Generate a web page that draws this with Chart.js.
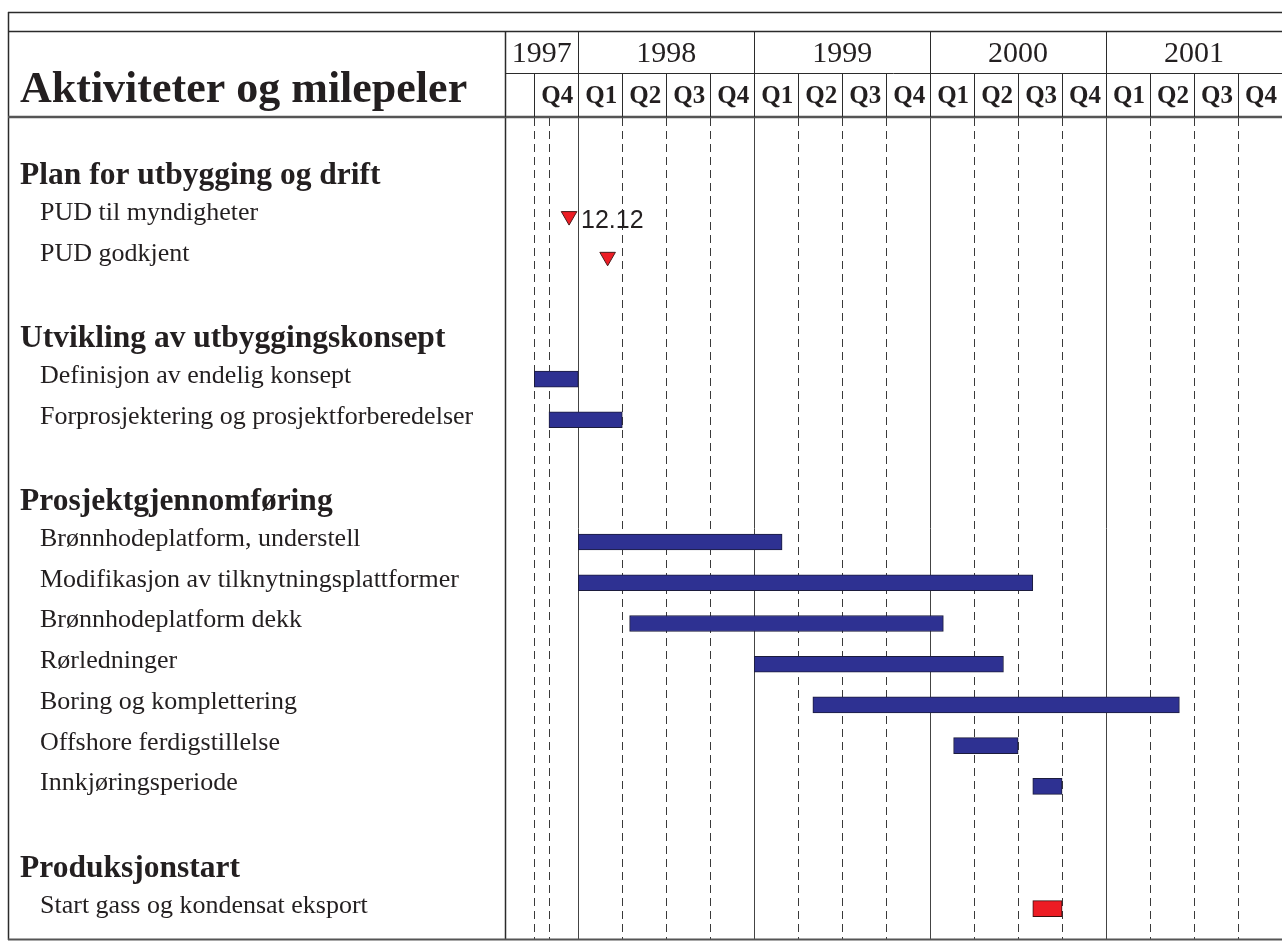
<!DOCTYPE html>
<html>
<head>
<meta charset="utf-8">
<script src="https://cdn.jsdelivr.net/npm/chart.js@4"></script>
<style>
  html, body { margin: 0; padding: 0; background: #fff; }
  #wrap { width: 1282px; height: 950px; position: relative; }
</style>
</head>
<body>
<div id="wrap"><canvas id="ganttChart"></canvas></div>
<script>
// rows of the plan, '' is an empty spacer row
const rows = [
  'Plan for utbygging og drift', 'PUD til myndigheter', 'PUD godkjent', '',
  'Utvikling av utbyggingskonsept', 'Definisjon av endelig konsept', 'Forprosjektering og prosjektforberedelser', '',
  'Prosjektgjennomføring', 'Brønnhodeplatform, understell', 'Modifikasjon av tilknytningsplattformer',
  'Brønnhodeplatform dekk', 'Rørledninger', 'Boring og komplettering', 'Offshore ferdigstillelse',
  'Innkjøringsperiode', '',
  'Produksjonstart', 'Start gass og kondensat eksport'
];
const headings = ['Plan for utbygging og drift', 'Utvikling av utbyggingskonsept', 'Prosjektgjennomføring', 'Produksjonstart'];

// time is counted in months from January 1997
const tasks = [
  'Definisjon av endelig konsept', 'Forprosjektering og prosjektforberedelser',
  'Brønnhodeplatform, understell', 'Modifikasjon av tilknytningsplattformer', 'Brønnhodeplatform dekk',
  'Rørledninger', 'Boring og komplettering', 'Offshore ferdigstillelse', 'Innkjøringsperiode'
];
const taskStart = [9, 10, 12, 12, 15.5, 24, 28, 37.6, 43];
const taskEnd   = [12, 15, 25.9, 43, 36.9, 41, 53, 42, 45];

const exportTask = 'Start gass og kondensat eksport';
const exportSpan = [43, 45];

const milestones = ['PUD til myndigheter', 'PUD godkjent'];
const milestoneAt = [11.37, 14.0];
const milestoneText = ['12.12', ''];

// header: years and quarters
const years = ['1997', '1998', '1999', '2000', '2001'];
const yearStart = [7, 12, 24, 36, 48];
const quarters = ['', 'Q4', 'Q1', 'Q2', 'Q3', 'Q4', 'Q1', 'Q2', 'Q3', 'Q4', 'Q1', 'Q2', 'Q3', 'Q4', 'Q1', 'Q2', 'Q3', 'Q4'];
const quarterStart = [7, 9, 12, 15, 18, 21, 24, 27, 30, 33, 36, 39, 42, 45, 48, 51, 54, 57];
const extraMarks = [10];
const axisMin = 7, axisMax = 60;

const NAVY = '#2e3192';
const RED = '#ed1c24';
const INK = '#231f20';
const SERIF = '"Liberation Serif", "Times New Roman", serif';

const barData = rows.map(r => {
  const i = tasks.indexOf(r);
  return i < 0 ? null : [taskStart[i], taskEnd[i]];
});
const exportData = rows.map(r => r === exportTask ? exportSpan : null);
const milestoneData = milestones.map((m, i) => ({ x: milestoneAt[i], y: m }));

function line(ctx, x1, y1, x2, y2) {
  ctx.beginPath();
  ctx.moveTo(x1, y1);
  ctx.lineTo(x2, y2);
  ctx.stroke();
}

const ganttFrame = {
  id: 'ganttFrame',
  beforeDatasetsDraw(chart) {
    const { ctx, scales: { x } } = chart;
    const top = 118, bottom = 939;
    ctx.save();
    ctx.lineWidth = 1;
    // quarter lines (dashed)
    ctx.strokeStyle = '#3a3a3a';
    ctx.setLineDash([8, 5]);
    quarterStart.concat(extraMarks).forEach(v => {
      if (v === axisMin || yearStart.includes(v)) return;
      const px = Math.round(x.getPixelForValue(v)) + 0.5;
      line(ctx, px, top, px, bottom);
    });
    // year lines (solid)
    ctx.setLineDash([]);
    ctx.strokeStyle = '#444';
    yearStart.forEach(v => {
      if (v === axisMin) return;
      const px = Math.round(x.getPixelForValue(v)) + 0.5;
      line(ctx, px, top, px, bottom);
    });
    ctx.restore();
  },
  afterDraw(chart) {
    const { ctx, scales: { x, y } } = chart;
    const W = chart.width;
    const left = x.getPixelForValue(axisMin);
    ctx.save();

    // frame
    ctx.strokeStyle = '#2b2b2b';
    ctx.lineWidth = 1.5;
    line(ctx, 8, 12.5, W, 12.5);
    line(ctx, 8.5, 12, 8.5, 940);
    line(ctx, 8, 31.5, W, 31.5);
    line(ctx, Math.round(left) + 0.5, 31, Math.round(left) + 0.5, 940);
    ctx.lineWidth = 1;
    line(ctx, left, 73.5, W, 73.5);
    ctx.strokeStyle = '#555';
    ctx.lineWidth = 2.5;
    line(ctx, 8, 117, W, 117);
    ctx.lineWidth = 2;
    line(ctx, 8, 939.5, W, 939.5);

    // header cells
    ctx.strokeStyle = '#2b2b2b';
    ctx.lineWidth = 1;
    ctx.fillStyle = INK;
    ctx.textAlign = 'center';
    ctx.textBaseline = 'alphabetic';
    ctx.font = '30px ' + SERIF;
    years.forEach((yr, i) => {
      const a = x.getPixelForValue(yearStart[i]);
      const b = x.getPixelForValue(i + 1 < yearStart.length ? yearStart[i + 1] : axisMax);
      const px = Math.round(a) + 0.5;
      line(ctx, px, 31, px, 117);
      ctx.fillText(yr, (a + b) / 2, 62);
    });
    ctx.font = 'bold 25px ' + SERIF;
    quarters.forEach((q, i) => {
      const a = x.getPixelForValue(quarterStart[i]);
      const b = x.getPixelForValue(i + 1 < quarterStart.length ? quarterStart[i + 1] : axisMax);
      const px = Math.round(a) + 0.5;
      line(ctx, px, 73, px, 117);
      if (q) ctx.fillText(q, (a + b) / 2 + 1, 103);
    });

    // title
    ctx.textAlign = 'left';
    ctx.font = 'bold 44px ' + SERIF;
    ctx.fillText('Aktiviteter og milepeler', 20, 102);

    // row labels
    rows.forEach((r, i) => {
      if (!r) return;
      const py = y.getPixelForValue(i);
      if (headings.includes(r)) {
        ctx.font = 'bold 31.5px ' + SERIF;
        ctx.fillText(r, 20, py + 9);
      } else {
        ctx.font = '26px ' + SERIF;
        ctx.fillText(r, 40, py + 4);
      }
    });

    // milestone dates
    const meta = chart.getDatasetMeta(2);
    ctx.font = '25px "Liberation Sans", Arial, sans-serif';
    meta.data.forEach((pt, i) => {
      if (milestoneText[i]) ctx.fillText(milestoneText[i], pt.x + 12, pt.y + 12);
    });
    ctx.restore();
  }
};

new Chart(document.getElementById('ganttChart'), {
  type: 'bar',
  data: {
    labels: rows,
    datasets: [
      {
        label: 'Aktiviteter',
        data: barData,
        backgroundColor: NAVY,
        borderColor: '#1c1c3c',
        borderWidth: 1,
        borderSkipped: false,
        barThickness: 16,
        grouped: false
      },
      {
        label: 'Produksjonstart',
        data: exportData,
        backgroundColor: RED,
        borderColor: '#3a1010',
        borderWidth: 1,
        borderSkipped: false,
        barThickness: 16,
        grouped: false
      },
      {
        type: 'scatter',
        label: 'Milepeler',
        data: milestoneData,
        pointStyle: 'triangle',
        rotation: 180,
        radius: 9,
        hoverRadius: 9,
        backgroundColor: RED,
        borderColor: '#4a1a1a',
        borderWidth: 1,
        showLine: false
      }
    ]
  },
  options: {
    indexAxis: 'y',
    responsive: true,
    maintainAspectRatio: false,
    animation: false,
    layout: { autoPadding: false, padding: { left: 505, right: 0, top: 155, bottom: 21 } },
    plugins: {
      legend: { display: false },
      tooltip: { enabled: false }
    },
    scales: {
      x: { type: 'linear', min: axisMin, max: axisMax, display: false },
      y: { type: 'category', display: false, grid: { display: false } }
    }
  },
  plugins: [ganttFrame]
});
</script>
</body>
</html>
